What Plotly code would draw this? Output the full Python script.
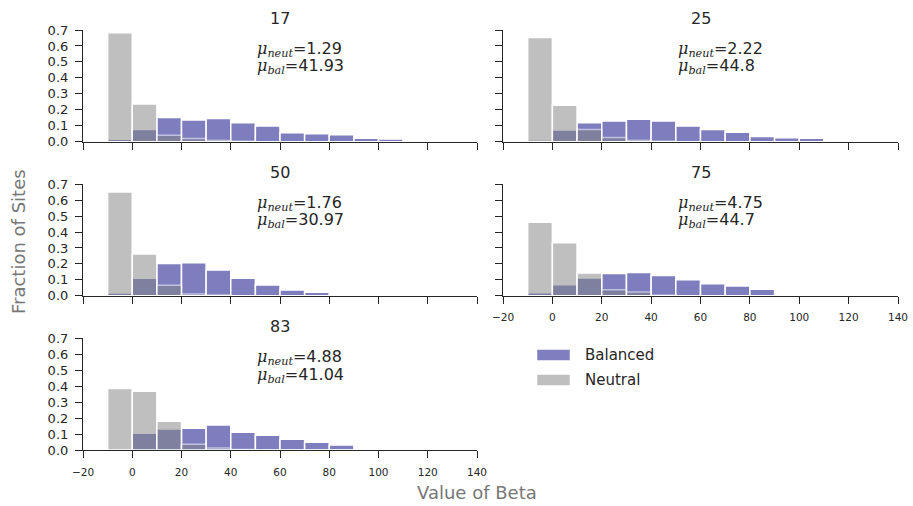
import plotly.graph_objects as go

# ---- data ----
bin_left = [-10, 0, 10, 20, 30, 40, 50, 60, 70, 80, 90, 100, 110, 120]
bin_width = 10

titles = ["17", "25", "50", "75", "83"]
mu_neut = ["1.29", "2.22", "1.76", "4.75", "4.88"]
mu_bal = ["41.93", "44.8", "30.97", "44.7", "41.04"]

bal_17 = [0.015, 0.077, 0.152, 0.136, 0.146, 0.119, 0.098, 0.056, 0.050, 0.044, 0.021, 0.017, 0.006, 0.003]
neu_17 = [0.683, 0.236, 0.040, 0.020, 0.008, 0.003, 0, 0, 0, 0, 0, 0, 0, 0]

bal_25 = [0.010, 0.073, 0.119, 0.130, 0.140, 0.130, 0.098, 0.077, 0.060, 0.033, 0.025, 0.021, 0.008, 0.006]
neu_25 = [0.653, 0.228, 0.077, 0.027, 0.008, 0.003, 0, 0, 0, 0, 0, 0, 0, 0]

bal_50 = [0.017, 0.109, 0.203, 0.207, 0.161, 0.109, 0.067, 0.036, 0.021, 0.006, 0.002, 0, 0, 0]
neu_50 = [0.652, 0.262, 0.065, 0.010, 0.004, 0, 0, 0, 0, 0, 0, 0, 0, 0]

bal_75 = [0.019, 0.069, 0.111, 0.140, 0.146, 0.127, 0.100, 0.075, 0.061, 0.040, 0, 0, 0, 0]
neu_75 = [0.462, 0.332, 0.142, 0.038, 0.023, 0.003, 0, 0, 0, 0, 0, 0, 0, 0]

bal_83 = [0.008, 0.105, 0.132, 0.136, 0.157, 0.111, 0.092, 0.067, 0.048, 0.031, 0, 0, 0, 0]
neu_83 = [0.385, 0.368, 0.180, 0.036, 0.012, 0.003, 0, 0, 0, 0, 0, 0, 0, 0]

balanced = [bal_17, bal_25, bal_50, bal_75, bal_83]
neutral = [neu_17, neu_25, neu_50, neu_75, neu_83]

x_ticks = [-20, 0, 20, 40, 60, 80, 100, 120, 140]
y_ticks = [0.0, 0.1, 0.2, 0.3, 0.4, 0.5, 0.6, 0.7]

# ---- layout geometry ----
W, H = 913, 506
col_px = [(83, 477), (503, 898)]
row_px = [(30, 141.7), (184.3, 295.7), (338.3, 450)]
panel_pos = [(0, 0), (0, 1), (1, 0), (1, 1), (2, 0)]
show_xlabels = [False, False, False, True, True]

TEXT = "#262626"
centers = [b + bin_width / 2 for b in bin_left]

fig = go.Figure()
layout = dict(
    width=W, height=H,
    margin=dict(l=0, r=0, t=0, b=0, autoexpand=False),
    paper_bgcolor="white", plot_bgcolor="white",
    barmode="overlay", showlegend=False,
    font=dict(family="DejaVu Sans", color=TEXT),
)
annotations = []
shapes = []

for i in range(5):
    r, c = panel_pos[i]
    xn = "" if i == 0 else str(i + 1)
    xa, ya = "x" + xn, "y" + xn
    fig.add_trace(go.Bar(
        x=centers, y=balanced[i], width=bin_width, xaxis=xa, yaxis=ya,
        marker=dict(color="rgb(0,0,128)", line=dict(color="white", width=1.5)),
        opacity=0.5, name="Balanced",
    ))
    fig.add_trace(go.Bar(
        x=centers, y=neutral[i], width=bin_width, xaxis=xa, yaxis=ya,
        marker=dict(color="rgb(128,128,128)", line=dict(color="white", width=1.5)),
        opacity=0.5, name="Neutral",
    ))
    x0, x1 = col_px[c]
    y0, y1 = row_px[r]
    layout["xaxis" + xn] = dict(
        domain=[x0 / W, x1 / W], anchor=ya, range=[-20, 140], automargin=False,
        tickvals=x_ticks, ticktext=[("\u221220" if v < 0 else str(v)) for v in x_ticks],
        showticklabels=show_xlabels[i],
        ticks="outside", ticklen=7, tickwidth=1.2, tickcolor=TEXT,
        showline=True, linecolor=TEXT, linewidth=1.2,
        showgrid=False, zeroline=False,
        tickfont=dict(size=10.5, color=TEXT), ticklabelstandoff=5,
    )
    layout["yaxis" + xn] = dict(
        domain=[1 - y1 / H, 1 - y0 / H], anchor=xa, range=[0, 0.7], automargin=False,
        tickvals=y_ticks, ticktext=[f"{v:.1f}" for v in y_ticks],
        showticklabels=(c == 0),
        ticks="outside", ticklen=7, tickwidth=1.2, tickcolor=TEXT,
        showline=True, linecolor=TEXT, linewidth=1.2,
        showgrid=False, zeroline=False,
        tickfont=dict(size=13, color=TEXT), ticklabelstandoff=4,
    )
    # panel title
    annotations.append(dict(
        text=titles[i], x=(x0 + x1) / 2 / W, y=1 - (y0 - 12) / H,
        xref="paper", yref="paper", xanchor="center", yanchor="middle",
        showarrow=False, font=dict(size=16, color=TEXT),
    ))
    # mean annotations
    mu = "<span style='font-family:DejaVu Serif'><i>\u03bc</i></span>"
    annotations.append(dict(
        text=mu + "<sub><i style='font-family:DejaVu Serif'>neut</i></sub>=" + mu_neut[i],
        x=50, y=0.58, xref=xa, yref=ya, xanchor="left", yanchor="middle",
        showarrow=False, font=dict(size=16, color=TEXT),
    ))
    annotations.append(dict(
        text=mu + "<sub><i style='font-family:DejaVu Serif'>bal</i></sub>=" + mu_bal[i],
        x=50, y=0.47, xref=xa, yref=ya, xanchor="left", yanchor="middle",
        showarrow=False, font=dict(size=16, color=TEXT),
    ))

# axis titles
annotations.append(dict(
    text="Fraction of Sites", x=18 / W, y=1 - 242 / H, xref="paper", yref="paper",
    textangle=-90, showarrow=False, xanchor="center", yanchor="middle",
    font=dict(size=18, color="#777777"),
))
annotations.append(dict(
    text="Value of Beta", x=477 / W, y=1 - 492 / H, xref="paper", yref="paper",
    showarrow=False, xanchor="center", yanchor="middle",
    font=dict(size=18, color="#777777"),
))

# custom legend
legend_items = [("Balanced", "rgba(0,0,128,0.5)", 355), ("Neutral", "rgba(128,128,128,0.5)", 380)]
for label, col, yc in legend_items:
    shapes.append(dict(
        type="rect", xref="paper", yref="paper",
        x0=537 / W, x1=570 / W, y0=1 - (yc + 5.5) / H, y1=1 - (yc - 5.5) / H,
        fillcolor=col, line=dict(color="rgba(255,255,255,0.5)", width=1),
    ))
    annotations.append(dict(
        text=label, x=583 / W, y=1 - yc / H, xref="paper", yref="paper",
        showarrow=False, xanchor="left", yanchor="middle",
        font=dict(size=15, color=TEXT),
    ))

layout["annotations"] = annotations
layout["shapes"] = shapes
fig.update_layout(**layout)
fig.write_html("out.html", config={"displayModeBar": False},
               post_script="document.body.style.margin='0';")
